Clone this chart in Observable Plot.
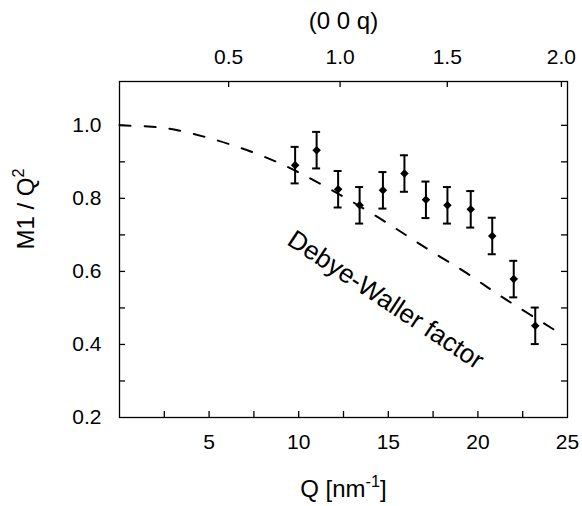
<!DOCTYPE html>
<html>
<head>
<meta charset="utf-8">
<script src="https://cdn.jsdelivr.net/npm/d3@7"></script>
<script src="https://cdn.jsdelivr.net/npm/@observablehq/plot@0.6"></script>
<style>
  html, body { margin: 0; padding: 0; background: #fff; }
  #chart svg { display: block; }
</style>
</head>
<body>
<div id="chart"></div>
<script>
// ---- data ----
const qValues   = [9.8, 11.0, 12.2, 13.4, 14.7, 15.9, 17.1, 18.3, 19.6, 20.8, 22.0, 23.2];
const m1Values  = [0.891, 0.932, 0.825, 0.781, 0.822, 0.868, 0.796, 0.781, 0.770, 0.697, 0.579, 0.451];
const m1Errors  = [0.05, 0.05, 0.05, 0.05, 0.05, 0.05, 0.05, 0.05, 0.05, 0.05, 0.05, 0.05];

const dwQ = [0, 1.8, 3.3, 4.7, 6.1, 7.5, 8.9, 10.2, 11.5, 12.8, 14.1, 15.4, 16.6, 17.9, 19.2, 20.4, 21.6, 22.9, 24.1, 24.5];
const dwM = [1.0, 0.996, 0.986, 0.969, 0.949, 0.925, 0.897, 0.866, 0.832, 0.796, 0.758, 0.718, 0.680, 0.640, 0.601, 0.561, 0.522, 0.482, 0.445, 0.434];

const xTickValues  = [2.5, 5, 7.5, 10, 12.5, 15, 17.5, 20, 22.5];
const xTickLabels  = [5, 10, 15, 20, 25];
const yTickValues  = [0.3, 0.4, 0.5, 0.6, 0.7, 0.8, 0.9, 1.0];
const yTickLabels  = [0.2, 0.4, 0.6, 0.8, 1.0];
const topTickLabels = ["0.5", "1.0", "1.5", "2.0"];
const topTickQ      = [6.09, 12.31, 18.29, 24.66];

const xTitle   = "Q [nm-1]";
const yTitle   = "M1 / Q2";
const topTitle = "(0 0 q)";
const annotation = [{text: "Debye-Waller factor", q: 14.85, m: 0.522}];

// ---- build tables ----
const points = qValues.map((q, i) => ({q, m: m1Values[i], lo: m1Values[i] - m1Errors[i], hi: m1Values[i] + m1Errors[i]}));
const curve = dwQ.map((q, i) => ({q, m: dwM[i]}));
const topTicks = topTickLabels.map((label, i) => ({label, q: topTickQ[i]}));

const W = 582, H = 506, mL = 119, mR = 15, mT = 81, mB = 89;
const pw = W - mL - mR, ph = H - mT - mB;
const font = "'Liberation Sans', Arial, Helvetica, sans-serif";
const tickLen = 6;

const chart = Plot.plot({
  width: W, height: H,
  marginLeft: mL, marginRight: mR, marginTop: mT, marginBottom: mB,
  style: {fontFamily: font, fontSize: "21px", color: "#000", background: "#fff", overflow: "visible"},
  x: {domain: [0, 25], axis: null},
  y: {domain: [0.2, 1.12], axis: null},
  marks: [
    // Debye-Waller curve
    Plot.line(curve, {x: "q", y: "m", stroke: "#000", strokeWidth: 2, strokeDasharray: "11,14", curve: "natural"}),
    // error bars
    Plot.ruleX(points, {x: "q", y1: "lo", y2: "hi", stroke: "#000", strokeWidth: 2}),
    Plot.ruleY(points, {y: "lo", x1: "q", x2: "q", insetLeft: -4, insetRight: -4, stroke: "#000", strokeWidth: 2}),
    Plot.ruleY(points, {y: "hi", x1: "q", x2: "q", insetLeft: -4, insetRight: -4, stroke: "#000", strokeWidth: 2}),
    Plot.dot(points, {x: "q", y: "m", symbol: "square", rotate: 45, r: 3.4, fill: "#000", stroke: "none"}),
    // frame & inward ticks
    Plot.frame({stroke: "#000", strokeWidth: 1.3}),
    Plot.tickY(yTickValues, {y: d => d, insetRight: pw - tickLen, stroke: "#000", strokeWidth: 1.3}),
    Plot.tickY(yTickValues, {y: d => d, insetLeft: pw - tickLen, stroke: "#000", strokeWidth: 1.3}),
    Plot.tickX(xTickValues, {x: d => d, insetTop: ph - tickLen, stroke: "#000", strokeWidth: 1.3}),
    Plot.tickX(topTicks, {x: "q", insetBottom: ph - tickLen, stroke: "#000", strokeWidth: 1.3}),
    // axes labels
    Plot.axisX(xTickLabels, {anchor: "bottom", tickSize: 0, tickPadding: 17, fontSize: 21, label: null}),
    Plot.axisY(yTickLabels, {anchor: "left", tickSize: 0, tickPadding: 18, tickFormat: d3.format(".1f"), fontSize: 21, label: null}),
    Plot.text(topTicks, {x: "q", text: "label", frameAnchor: "top", dy: -24, fontSize: 21, lineAnchor: "middle"}),
    // titles
    Plot.text([topTitle], {frameAnchor: "top", dy: -60, fontSize: 24, lineAnchor: "middle"}),
    Plot.text([xTitle], {frameAnchor: "bottom", dy: 72, fontSize: 24, lineAnchor: "middle"}),
    Plot.text([yTitle], {frameAnchor: "left", dx: -93, rotate: -90, fontSize: 24, lineAnchor: "middle"}),
    // annotation
    Plot.text(annotation, {x: "q", y: "m", text: "text", rotate: 33.5, fontSize: 26, lineAnchor: "middle"})
  ]
});

// superscripts in the axis titles (kept as real text)
function superscript(textEl, base, sup, tail) {
  const fs = parseFloat(textEl.getAttribute("font-size")) || 24;
  textEl.textContent = "";
  const ns = "http://www.w3.org/2000/svg";
  const a = document.createElementNS(ns, "tspan"); a.textContent = base; textEl.appendChild(a);
  const b = document.createElementNS(ns, "tspan"); b.textContent = sup;
  b.setAttribute("font-size", (fs * 0.68).toFixed(1)); b.setAttribute("dy", (-fs * 0.42).toFixed(1));
  textEl.appendChild(b);
  if (tail) {
    const c = document.createElementNS(ns, "tspan"); c.textContent = tail;
    c.setAttribute("dy", (fs * 0.42).toFixed(1)); textEl.appendChild(c);
  }
}
chart.querySelectorAll("text").forEach(t => {
  if (t.textContent === xTitle) superscript(t, "Q [nm", "-1", "]");
  else if (t.textContent === yTitle) superscript(t, "M1 / Q", "2", null);
});

document.getElementById("chart").appendChild(chart);
</script>
</body>
</html>
